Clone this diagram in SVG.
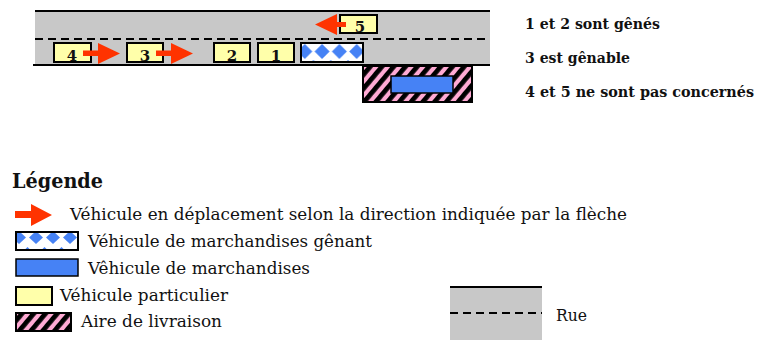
<svg xmlns="http://www.w3.org/2000/svg" width="757" height="340" viewBox="0 0 757 340">
<style>
.car{fill:#ffffaa;stroke:#000;stroke-width:2}
.arrow{fill:#ff3300}
.road{fill:#c8c8c8}
.edge{stroke:#000;stroke-width:2}
.dash{stroke:#000;stroke-width:2;stroke-dasharray:8 5}
.box{stroke:#000;stroke-width:2}
.truck{fill:#4682f5;stroke:#000;stroke-width:1.5}
</style>
<defs>
<pattern id="hatch" patternUnits="userSpaceOnUse" width="9" height="9" patternTransform="rotate(40)">
<rect width="9" height="9" fill="#ffaad4"/>
<rect width="4.8" height="9" fill="#000"/>
</pattern>
<pattern id="diamRoad" patternUnits="userSpaceOnUse" x="287.5" y="43" width="17.3" height="32">
<rect width="17.3" height="32" fill="#fff"/>
<polygon points="17.3,1 24.8,8.5 17.3,16 9.8,8.5" fill="#4682f5"/>
<polygon points="0,1 7.5,8.5 0,16 -7.5,8.5" fill="#4682f5"/>
<polygon points="8.65,17 12,20 8.65,23 5.3,20" fill="#4682f5"/>
</pattern>
<pattern id="diamLeg" patternUnits="userSpaceOnUse" x="2" y="231" width="17" height="32">
<rect width="17" height="32" fill="#fff"/>
<polygon points="17,0 24,6.5 17,13 10,6.5" fill="#4682f5"/>
<polygon points="0,0 7,6.5 0,13 -7,6.5" fill="#4682f5"/>
<polygon points="8.5,16 11.5,19 8.5,22 5.5,19" fill="#4682f5"/>
</pattern>
</defs>

<g id="street">
<rect class="road" x="35" y="11" width="455" height="54"/>
<line class="edge" x1="35" y1="11" x2="490" y2="11"/>
<line class="dash" x1="35" y1="39" x2="490" y2="39"/>
<line class="edge" x1="33" y1="65" x2="490" y2="65"/>
</g>

<g id="delivery-area">
<rect class="box" x="363" y="66" width="109" height="36" fill="url(#hatch)"/>
</g>
<g id="truck-parked">
<rect class="truck" x="391" y="76" width="62" height="17"/>
</g>
<g id="truck-blocking">
<rect class="box" x="301" y="43" width="62" height="19" fill="url(#diamRoad)" stroke-width="1.5"/>
</g>

<g font-family="DejaVu Serif, serif" font-weight="bold" font-size="15" text-anchor="middle" fill="#111">
<g id="car-1"><rect class="car" x="258" y="43" width="36" height="19"/><text x="276" y="61">1</text></g>
<g id="car-2"><rect class="car" x="214" y="43" width="36" height="19"/><text x="232" y="61">2</text></g>
<g id="car-3"><rect class="car" x="127" y="43" width="36" height="19"/><text x="145" y="61">3</text></g>
<g id="car-4"><rect class="car" x="54" y="43" width="37" height="19"/><text x="72" y="61">4</text></g>
<g id="car-5"><rect class="car" x="340" y="15" width="37" height="18"/><text x="360" y="32">5</text></g>
</g>

<g id="movement-arrows">
<polygon class="arrow" points="83,50.5 98,50.5 98,43 120,53.5 98,64 98,56 83,56"/>
<polygon class="arrow" points="156,50.5 171,50.5 171,43 193,53.5 171,64 171,56 156,56"/>
<polygon class="arrow" points="346,22 337,22 337,14 315,24.5 337,35 337,27 346,27"/>
</g>

<g id="notes" font-family="DejaVu Serif, serif" font-weight="bold" font-size="14.5" fill="#111">
<text x="525" y="29" textLength="135" lengthAdjust="spacingAndGlyphs">1 et 2 sont gênés</text>
<text x="525" y="63" textLength="105" lengthAdjust="spacingAndGlyphs">3 est gênable</text>
<text x="525" y="97" font-size="13.9" textLength="229" lengthAdjust="spacingAndGlyphs">4 et 5 ne sont pas concernés</text>
</g>

<g id="legend" font-family="DejaVu Serif, serif" font-size="17" fill="#111">
<text x="12" y="188" font-weight="bold" font-size="21" textLength="91" lengthAdjust="spacingAndGlyphs">Légende</text>
<polygon class="arrow" points="15,211 31,211 31,204 52,215 31,226 31,218 15,218"/>
<text x="70" y="220" textLength="557" lengthAdjust="spacingAndGlyphs">Véhicule en déplacement selon la direction indiquée par la flèche</text>
<rect class="box" x="16" y="232" width="62" height="18" fill="url(#diamLeg)" stroke-width="1.5"/>
<text x="88" y="247" textLength="284" lengthAdjust="spacingAndGlyphs">Véhicule de marchandises gênant</text>
<rect class="truck" x="16" y="259" width="62" height="17" stroke-width="2"/>
<text x="88" y="274" textLength="222" lengthAdjust="spacingAndGlyphs">Vêhicule de marchandises</text>
<rect class="car" x="16" y="287" width="36" height="18"/>
<text x="60" y="301" textLength="168" lengthAdjust="spacingAndGlyphs">Véhicule particulier</text>
<rect class="box" x="16" y="313" width="55" height="18" fill="url(#hatch)"/>
<text x="81" y="327" textLength="141" lengthAdjust="spacingAndGlyphs">Aire de livraison</text>
<rect class="road" x="450" y="287" width="92" height="53"/>
<line class="edge" x1="450" y1="287" x2="542" y2="287"/>
<line class="dash" x1="450" y1="313" x2="542" y2="313"/>
<text x="556" y="321" textLength="31" lengthAdjust="spacingAndGlyphs">Rue</text>
</g>
</svg>
